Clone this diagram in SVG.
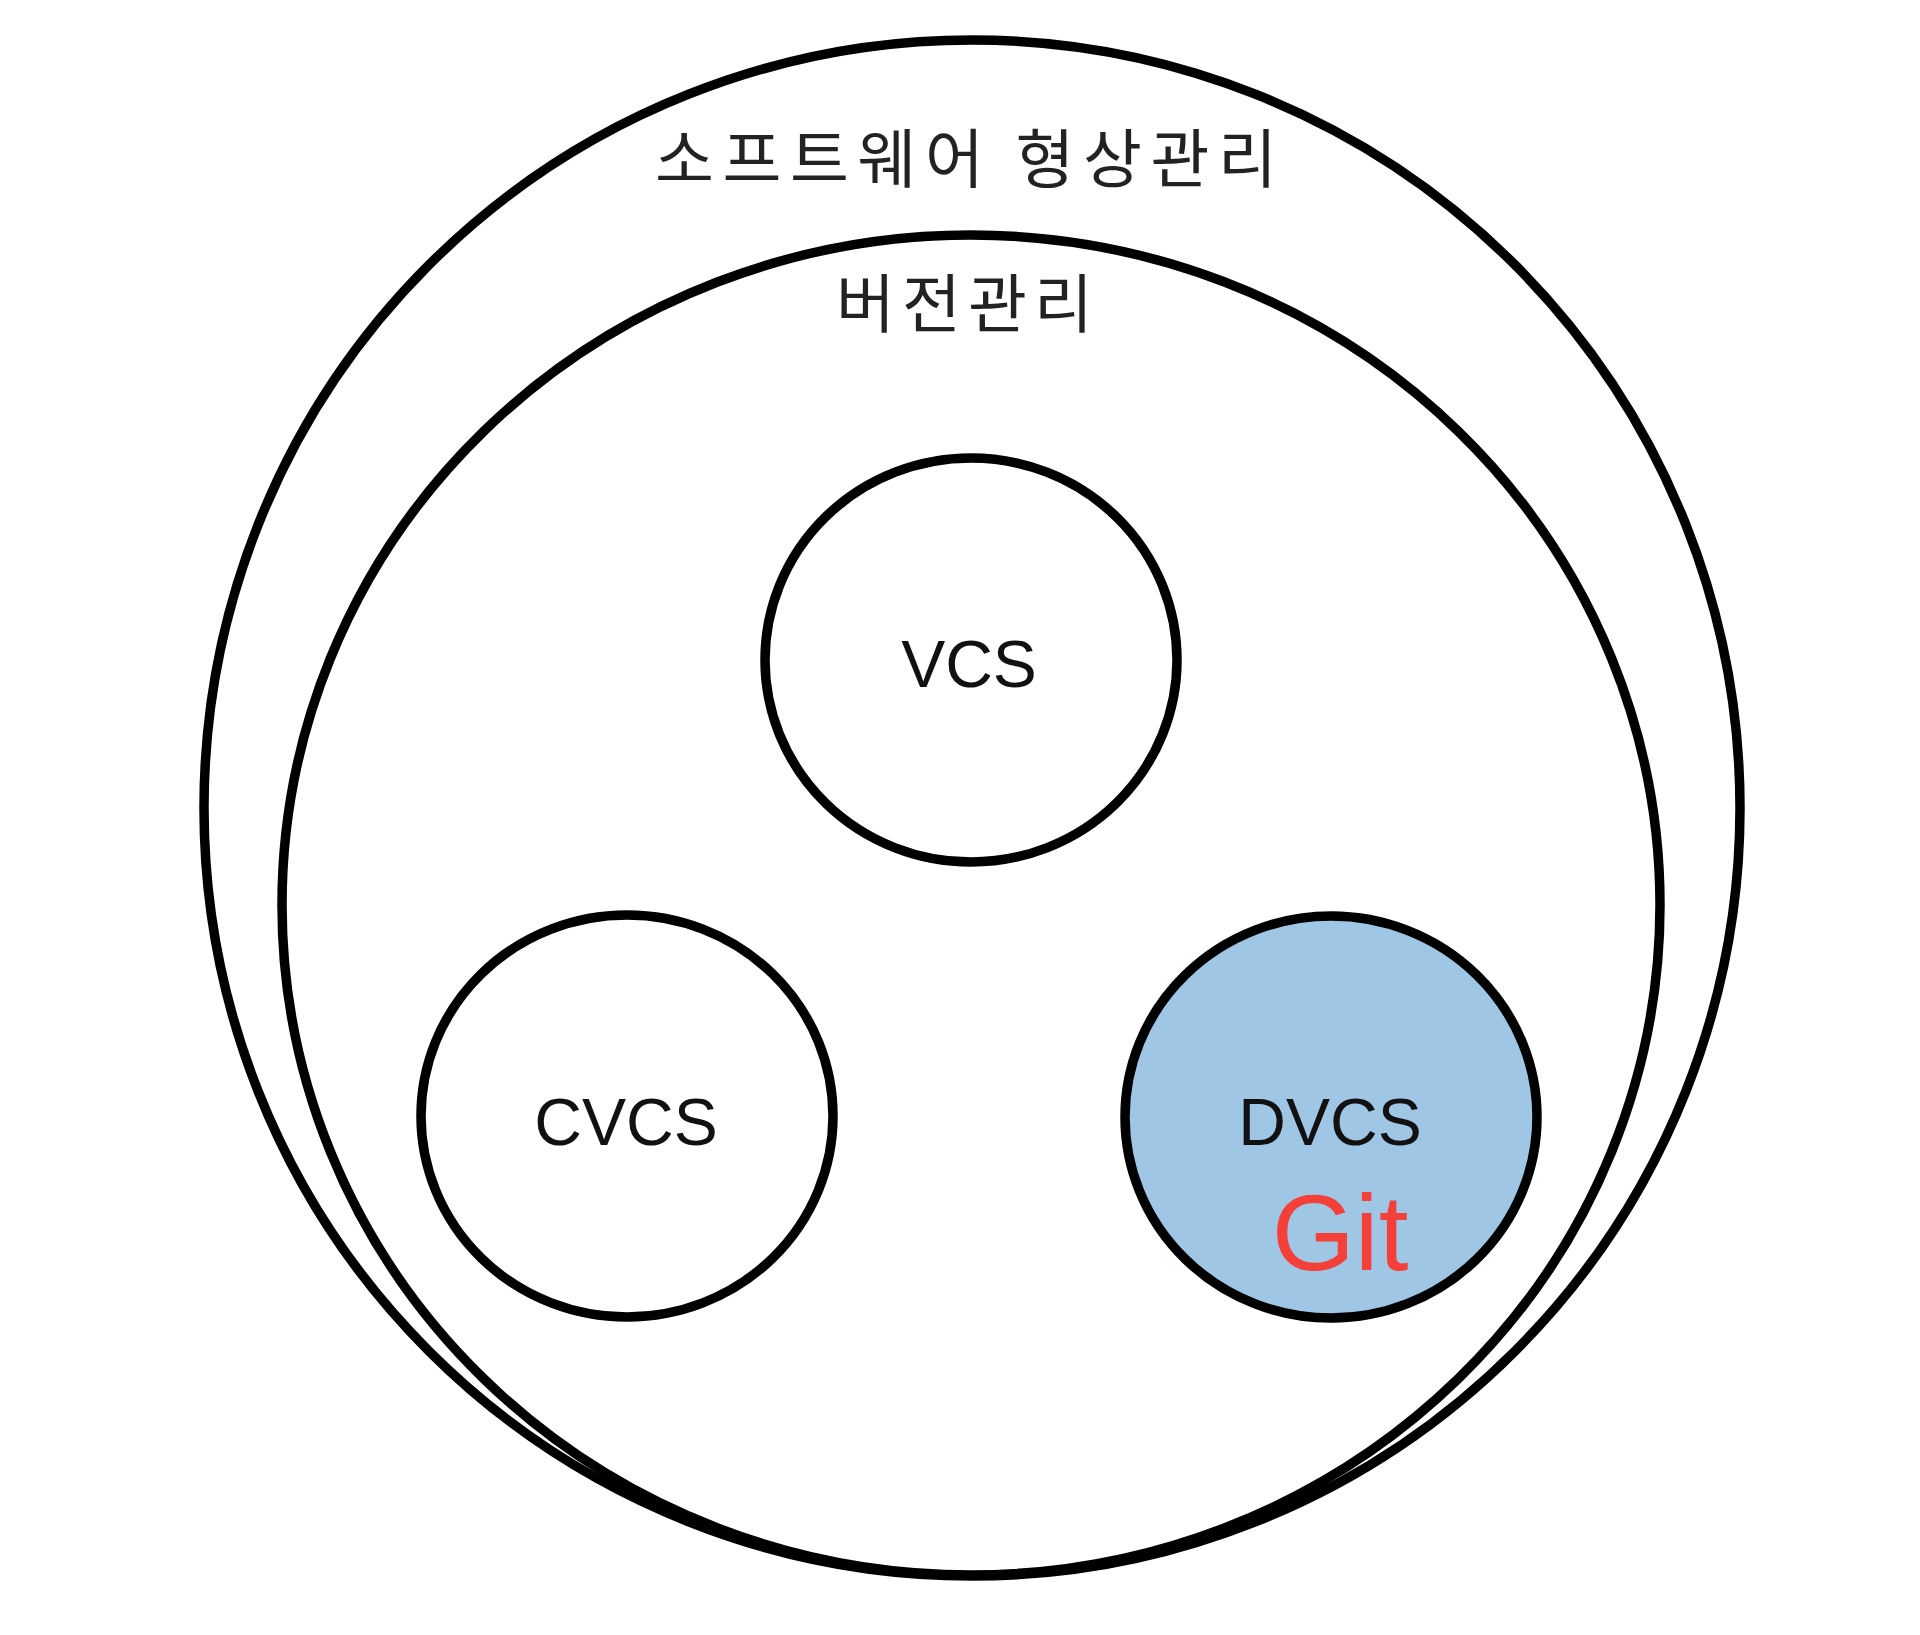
<svg xmlns="http://www.w3.org/2000/svg" width="1920" height="1635" viewBox="0 0 1920 1635">
  <style>
    .ring { fill: none; stroke: #000; stroke-width: 9.5; }
    .node { fill: #fff; stroke: #000; stroke-width: 9.5; }
    .ko { font-family: "Noto Sans CJK KR", "Noto Sans", sans-serif; font-size: 64px; font-weight: 400; fill: #222; }
    .lbl { font-family: "Liberation Sans", Arial, sans-serif; font-size: 66px; fill: #111; text-anchor: middle; }
    .git { font-family: "Liberation Sans", Arial, sans-serif; font-size: 107px; fill: #F5403A; text-anchor: middle; }
  </style>
  <rect x="0" y="0" width="1920" height="1635" fill="#fff"/>
  <g id="scm">
    <ellipse class="ring" cx="972" cy="808" rx="768" ry="768"/>
    <text class="ko" x="655" y="182" textLength="622" lengthAdjust="spacing">소프트웨어 형상관리</text>
  </g>
  <g id="version-control">
    <ellipse class="ring" cx="971" cy="905" rx="689" ry="670"/>
    <text class="ko" x="836" y="327" textLength="257" lengthAdjust="spacing">버전관리</text>
  </g>
  <g id="connectors"></g>
  <g id="vcs">
    <ellipse class="node" cx="971" cy="660" rx="206" ry="202"/>
    <text class="lbl" x="969" y="687">VCS</text>
  </g>
  <g id="cvcs">
    <ellipse class="node" cx="627" cy="1116" rx="206" ry="201"/>
    <text class="lbl" x="626" y="1145">CVCS</text>
  </g>
  <g id="dvcs">
    <ellipse class="node" cx="1331" cy="1117" rx="206" ry="201" style="fill:#A0C6E6"/>
    <text class="lbl" x="1330" y="1145">DVCS</text>
    <text class="git" x="1340" y="1270">Git</text>
  </g>
</svg>
